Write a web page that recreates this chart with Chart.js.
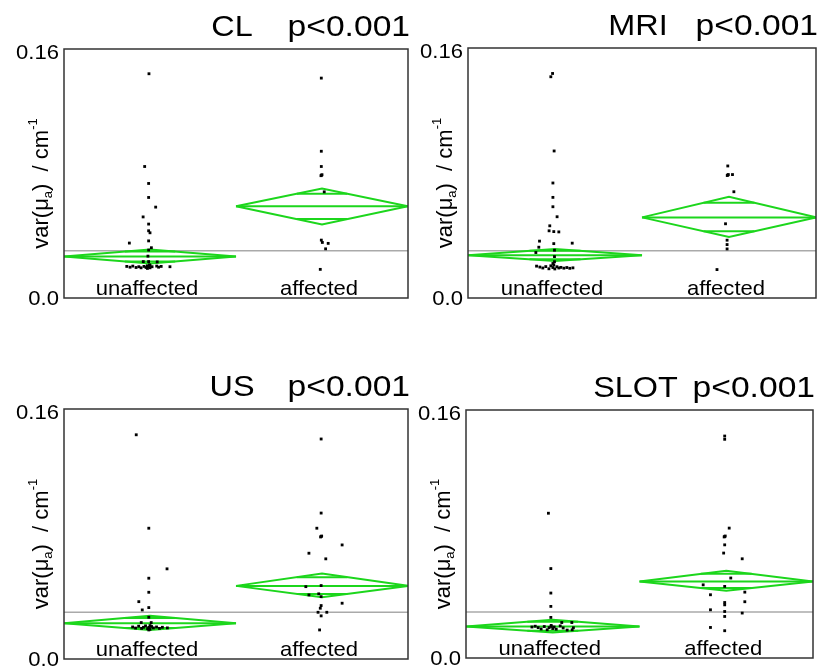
<!DOCTYPE html>
<html>
<head>
<meta charset="utf-8">
<script src="https://cdn.jsdelivr.net/npm/chart.js@4.4.1/dist/chart.umd.min.js"></script>
<style>
  html, body { margin: 0; padding: 0; background: #fff; }
  #wrap { position: relative; width: 822px; height: 667px; }
  #wrap canvas { position: absolute; }
</style>
</head>
<body>
<div id="wrap">
  <canvas id="clChart" width="412" height="334" style="left:0;top:0"></canvas>
  <canvas id="mriChart" width="418" height="334" style="left:404px;top:0"></canvas>
  <canvas id="usChart" width="412" height="307" style="left:0;top:360px"></canvas>
  <canvas id="slotChart" width="420" height="307" style="left:402px;top:360px"></canvas>
</div>
<script>
const groups = ["unaffected", "affected"];
const yTicks = [0, 0.16];
const yTickLabels = ["0.0", "0.16"];
const pLabel = "p<0.001";

// CL
const clUnaffX = [0.494, 0.469, 0.492, 0.492, 0.533, 0.460, 0.492, 0.492, 0.500, 0.492, 0.380, 0.508, 0.492, 0.488, 0.461, 0.492, 0.542,
  0.365, 0.384, 0.400, 0.419, 0.435, 0.448, 0.465, 0.477, 0.484, 0.492, 0.500, 0.500, 0.512, 0.539, 0.550, 0.565, 0.616, 0.485, 0.497];
const clUnaffY = [0.1441, 0.0845, 0.0736, 0.0646, 0.0584, 0.0521, 0.0475, 0.0432, 0.0419, 0.0367, 0.0353, 0.0323, 0.0308, 0.0269, 0.0234, 0.0234, 0.0232,
  0.0203, 0.0198, 0.0205, 0.0196, 0.0201, 0.0194, 0.0203, 0.0196, 0.0207, 0.0200, 0.0194, 0.0209, 0.0201, 0.0205, 0.0198, 0.0203, 0.0201, 0.0190, 0.0213];
const clAffX = [1.496, 1.496, 1.496, 1.494, 1.500, 1.497, 1.513, 1.496, 1.502, 1.536, 1.521, 1.490];
const clAffY = [0.1413, 0.0943, 0.0845, 0.0786, 0.0792, 0.0789, 0.0682, 0.0372, 0.0357, 0.0351, 0.0316, 0.0184];
const clMean = [0.0267, 0.0590];
const clLower = [0.0222, 0.0473];
const clUpper = [0.0312, 0.0703];
const clGrand = 0.0303;

// MRI
const mriUnaffX = [0.486, 0.476, 0.495, 0.488, 0.488, 0.488, 0.512, 0.470, 0.466, 0.493, 0.522, 0.411, 0.599, 0.493, 0.407, 0.497, 0.390, 0.497, 0.497, 0.488,
  0.394, 0.413, 0.430, 0.447, 0.465, 0.476, 0.488, 0.499, 0.511, 0.522, 0.534, 0.551, 0.568, 0.585, 0.603, 0.493];
const mriUnaffY = [0.1437, 0.1416, 0.0941, 0.0736, 0.0644, 0.0584, 0.0520, 0.0462, 0.0430, 0.0425, 0.0423, 0.0364, 0.0351, 0.0348, 0.0325, 0.0306, 0.0291, 0.0265, 0.0232, 0.0221,
  0.0204, 0.0198, 0.0192, 0.0201, 0.0187, 0.0206, 0.0195, 0.0186, 0.0200, 0.0192, 0.0196, 0.0191, 0.0195, 0.0190, 0.0193, 0.0212];
const mriAffX = [1.493, 1.490, 1.496, 1.493, 1.520, 1.528, 1.480, 1.489, 1.489, 1.489, 1.431];
const mriAffY = [0.0845, 0.0784, 0.0790, 0.0787, 0.0790, 0.0680, 0.0475, 0.0370, 0.0342, 0.0314, 0.0182];
const mriMean = [0.0274, 0.0516];
const mriLower = [0.0237, 0.0391];
const mriUpper = [0.0314, 0.0648];
const mriGrand = 0.0302;

// US
const usUnaffX = [0.420, 0.493, 0.599, 0.493, 0.493, 0.435, 0.493, 0.455, 0.493, 0.449, 0.507,
  0.399, 0.416, 0.434, 0.451, 0.462, 0.474, 0.486, 0.493, 0.500, 0.509, 0.520, 0.538, 0.555, 0.572, 0.601, 0.493, 0.500];
const usUnaffY = [0.1435, 0.0837, 0.0577, 0.0517, 0.0427, 0.0367, 0.0329, 0.0314, 0.0267, 0.0233, 0.0233,
  0.0205, 0.0198, 0.0210, 0.0196, 0.0203, 0.0212, 0.0194, 0.0202, 0.0190, 0.0208, 0.0199, 0.0205, 0.0196, 0.0203, 0.0199, 0.0186, 0.0214];
const usAffX = [1.495, 1.495, 1.470, 1.492, 1.498, 1.495, 1.617, 1.424, 1.522, 1.495, 1.406, 1.424, 1.481, 1.495, 1.617, 1.495, 1.490, 1.477, 1.528, 1.495, 1.486];
const usAffY = [0.1408, 0.0934, 0.0837, 0.0781, 0.0787, 0.0784, 0.0730, 0.0677, 0.0641, 0.0470, 0.0463, 0.0410, 0.0417, 0.0399, 0.0357, 0.0342, 0.0325, 0.0299, 0.0299, 0.0276, 0.0186];
const usMean = [0.0229, 0.0468];
const usLower = [0.0186, 0.0395];
const usUpper = [0.0276, 0.0547];
const usGrand = 0.0299;

// SLOT
const slotUnaffX = [0.475, 0.489, 0.489, 0.489, 0.489, 0.552, 0.610,
  0.380, 0.399, 0.416, 0.433, 0.451, 0.468, 0.479, 0.491, 0.500, 0.508, 0.520, 0.543, 0.560, 0.583, 0.619, 0.612, 0.491];
const slotUnaffY = [0.0934, 0.0577, 0.0419, 0.0333, 0.0262, 0.0229, 0.0229,
  0.0200, 0.0205, 0.0196, 0.0187, 0.0203, 0.0182, 0.0196, 0.0204, 0.0190, 0.0200, 0.0186, 0.0207, 0.0194, 0.0180, 0.0195, 0.0182, 0.0210];
const slotAffX = [1.491, 1.491, 1.517, 1.488, 1.494, 1.491, 1.491, 1.485, 1.592, 1.526, 1.367, 1.491, 1.409, 1.607, 1.491, 1.491, 1.607, 1.409, 1.491, 1.592, 1.491, 1.409, 1.491];
const slotAffY = [0.1432, 0.1411, 0.0838, 0.0781, 0.0787, 0.0784, 0.0730, 0.0677, 0.0640, 0.0516, 0.0472, 0.0462, 0.0408, 0.0425, 0.0358, 0.0343, 0.0363, 0.0311, 0.0300, 0.0290, 0.0268, 0.0197, 0.0176];
const slotMean = [0.0204, 0.0494];
const slotLower = [0.0165, 0.0434];
const slotUpper = [0.0247, 0.0563];
const slotGrand = 0.0296;

const FONT = "'Liberation Sans', Arial, sans-serif";
const GREEN = "rgb(28, 214, 28)";

function pts(xs, ys) {
  return xs.map((x, i) => ({ x: x, y: ys[i] }));
}

function lineDs(data, color, width, order) {
  return {
    type: "line", data: data, borderColor: color, borderWidth: width,
    pointRadius: 0, fill: false, tension: 0, order: order
  };
}

// text drawn slightly wider than the font's own metrics
function wideText(ctx, text, x, y, align, size, sx) {
  ctx.save();
  ctx.font = size + "px " + FONT;
  ctx.translate(x, y);
  ctx.scale(sx, 1);
  ctx.textAlign = align;
  ctx.textBaseline = "alphabetic";
  ctx.fillStyle = "#000";
  ctx.fillText(text, 0, 0);
  ctx.restore();
}

// var(μa) / cm-1, rotated, with sub and superscript
function axisTitle(ctx, cx, cy) {
  const size = 22, small = 13;
  const parts = [
    ["var(\u03bc", size, 0],
    ["a", small, 6],
    [")  / cm", size, 0],
    ["-1", small, -9]
  ];
  ctx.save();
  ctx.translate(cx, cy);
  ctx.rotate(-Math.PI / 2);
  ctx.fillStyle = "#000";
  ctx.textBaseline = "middle";
  ctx.textAlign = "left";
  let total = 0;
  parts.forEach(p => { ctx.font = p[1] + "px " + FONT; total += ctx.measureText(p[0]).width; });
  let x = -total / 2;
  parts.forEach(p => {
    ctx.font = p[1] + "px " + FONT;
    ctx.fillText(p[0], x, p[2]);
    x += ctx.measureText(p[0]).width;
  });
  ctx.restore();
}

const decor = {
  id: "decor",
  afterDraw(chart, args, opts) {
    const ctx = chart.ctx, ca = chart.chartArea;
    const xs = chart.scales.x, ys = chart.scales.y;

    ctx.save();
    ctx.strokeStyle = "#333";
    ctx.lineWidth = 1.5;
    ctx.strokeRect(ca.left, ca.top, ca.right - ca.left, ca.bottom - ca.top);
    ctx.restore();

    yTicks.forEach((v, i) => {
      const dy = v === 0 ? 7 : 10;
      wideText(ctx, yTickLabels[i], ca.left - 5, ys.getPixelForValue(v) + dy, "right", 21, 1.05);
    });

    groups.forEach((g, i) => {
      wideText(ctx, g, xs.getPixelForValue(i + 0.5) - 3, ca.bottom - 3, "center", 21, 1.05);
    });

    wideText(ctx, opts.name, (ca.left + ca.right) / 2 - 4, ca.top - 13, "center", 30, 1.08);
    wideText(ctx, pLabel, ca.right + 2, ca.top - 13, "right", 30, 1.12);

    axisTitle(ctx, ca.left - 22, (ca.top + ca.bottom) / 2 + 10);
  }
};

function makePanel(id, name, pad, ux, uy, ax, ay, mean, lower, upper, grand) {
  const datasets = [];

  datasets.push({
    type: "scatter",
    data: pts(ux, uy).concat(pts(ax, ay)),
    pointStyle: "rect",
    pointRadius: 2,
    backgroundColor: "#000",
    borderWidth: 0,
    order: 0
  });

  // means diamonds with overlap marks
  const w = 0.5 * (1 - Math.SQRT1_2);
  groups.forEach((g, i) => {
    const c = i + 0.5, m = mean[i], lo = lower[i], hi = upper[i];
    datasets.push(lineDs([
      { x: c - 0.5, y: m }, { x: c, y: hi }, { x: c + 0.5, y: m }, { x: c, y: lo }, { x: c - 0.5, y: m }
    ], GREEN, 2, 1));
    datasets.push(lineDs([{ x: c - 0.5, y: m }, { x: c + 0.5, y: m }], GREEN, 2, 1));
    const up = m + (hi - m) * Math.SQRT1_2;
    const dn = m - (m - lo) * Math.SQRT1_2;
    datasets.push(lineDs([{ x: c - w, y: up }, { x: c + w, y: up }], GREEN, 2, 1));
    datasets.push(lineDs([{ x: c - w, y: dn }, { x: c + w, y: dn }], GREEN, 2, 1));
  });

  datasets.push(lineDs([{ x: 0, y: grand }, { x: 2, y: grand }], "#aaa", 1.5, 2));

  new Chart(document.getElementById(id), {
    type: "scatter",
    data: { datasets: datasets },
    plugins: [decor],
    options: {
      responsive: false,
      animation: false,
      layout: { padding: { top: pad[0], right: pad[1], bottom: pad[2], left: 0 } },
      plugins: {
        legend: { display: false },
        tooltip: { enabled: false },
        decor: { name: name }
      },
      scales: {
        x: { type: "linear", min: 0, max: 2, display: false },
        y: {
          type: "linear", min: 0, max: 0.16,
          ticks: { display: false },
          grid: { display: false },
          border: { display: false },
          afterFit: s => { s.width = 64; }
        }
      }
    }
  });
}

makePanel("clChart", "CL", [49, 2, 36], clUnaffX, clUnaffY, clAffX, clAffY, clMean, clLower, clUpper, clGrand);
makePanel("mriChart", "MRI", [48, 6, 36], mriUnaffX, mriUnaffY, mriAffX, mriAffY, mriMean, mriLower, mriUpper, mriGrand);
makePanel("usChart", "US", [49, 2, 8], usUnaffX, usUnaffY, usAffX, usAffY, usMean, usLower, usUpper, usGrand);
makePanel("slotChart", "SLOT", [50, 9, 9], slotUnaffX, slotUnaffY, slotAffX, slotAffY, slotMean, slotLower, slotUpper, slotGrand);
</script>
</body>
</html>
